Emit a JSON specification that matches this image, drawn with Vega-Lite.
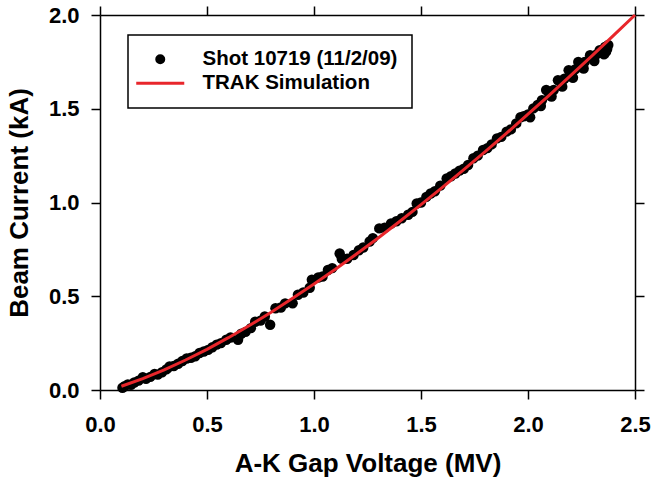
{
  "$schema": "https://vega.github.io/schema/vega-lite/v6.json",
  "width": 535,
  "height": 375,
  "autosize": {"type": "none"},
  "padding": {"left": 100, "top": 15, "right": 17, "bottom": 95},
  "background": "white",
  "config": {
    "view": {"stroke": null},
    "font": "Liberation Sans",
    "axis": {
      "labelFont": "Liberation Sans",
      "labelFontWeight": "bold",
      "labelFontSize": 22,
      "labelColor": "black",
      "labelFlush": false,
      "labelOverlap": false,
      "titleFont": "Liberation Sans",
      "titleFontWeight": "bold",
      "titleFontSize": 26,
      "titleColor": "black",
      "tickSize": 9,
      "tickWidth": 1.5,
      "tickColor": "black",
      "domainColor": "black",
      "domainWidth": 1.5,
      "grid": false
    },
    "legend": {
      "orient": "none",
      "legendX": 28,
      "legendY": 20,
      "strokeColor": "black",
      "strokeWidth": 1.5,
      "fillColor": "white",
      "padding": 14,
      "labelFont": "Liberation Sans",
      "labelFontWeight": "bold",
      "labelFontSize": 20.5,
      "labelColor": "black",
      "labelLimit": 0,
      "symbolSize": 49,
      "symbolStrokeWidth": 3,
      "symbolOffset": 8,
      "labelOffset": 32,
      "rowPadding": 3
    }
  },
  "datasets": {
    "shot": [
      {"v": 0.105, "i": 0.012}, {"v": 0.115, "i": 0.02}, {"v": 0.13, "i": 0.03}, {"v": 0.145, "i": 0.028},
      {"v": 0.16, "i": 0.04}, {"v": 0.18, "i": 0.05}, {"v": 0.2, "i": 0.068}, {"v": 0.215, "i": 0.06},
      {"v": 0.235, "i": 0.07}, {"v": 0.255, "i": 0.085}, {"v": 0.27, "i": 0.082}, {"v": 0.29, "i": 0.095},
      {"v": 0.31, "i": 0.11}, {"v": 0.325, "i": 0.125}, {"v": 0.345, "i": 0.128}, {"v": 0.365, "i": 0.14},
      {"v": 0.385, "i": 0.155}, {"v": 0.405, "i": 0.168}, {"v": 0.425, "i": 0.172}, {"v": 0.445, "i": 0.18},
      {"v": 0.465, "i": 0.197}, {"v": 0.485, "i": 0.205}, {"v": 0.505, "i": 0.214}, {"v": 0.525, "i": 0.228},
      {"v": 0.545, "i": 0.242}, {"v": 0.565, "i": 0.25}, {"v": 0.59, "i": 0.268}, {"v": 0.61, "i": 0.28},
      {"v": 0.645, "i": 0.268}, {"v": 0.66, "i": 0.3}, {"v": 0.68, "i": 0.31}, {"v": 0.705, "i": 0.33},
      {"v": 0.725, "i": 0.364}, {"v": 0.75, "i": 0.37}, {"v": 0.77, "i": 0.392}, {"v": 0.795, "i": 0.348},
      {"v": 0.82, "i": 0.436}, {"v": 0.845, "i": 0.44}, {"v": 0.865, "i": 0.462}, {"v": 0.9, "i": 0.463},
      {"v": 0.925, "i": 0.508}, {"v": 0.95, "i": 0.52}, {"v": 0.98, "i": 0.545}, {"v": 0.99, "i": 0.588},
      {"v": 1.02, "i": 0.6}, {"v": 1.04, "i": 0.605}, {"v": 1.065, "i": 0.64}, {"v": 1.085, "i": 0.65},
      {"v": 1.12, "i": 0.728}, {"v": 1.13, "i": 0.7}, {"v": 1.155, "i": 0.7}, {"v": 1.185, "i": 0.72},
      {"v": 1.21, "i": 0.745}, {"v": 1.23, "i": 0.76}, {"v": 1.26, "i": 0.792}, {"v": 1.275, "i": 0.81},
      {"v": 1.305, "i": 0.862}, {"v": 1.33, "i": 0.865}, {"v": 1.36, "i": 0.888}, {"v": 1.385, "i": 0.9},
      {"v": 1.41, "i": 0.916}, {"v": 1.44, "i": 0.935}, {"v": 1.46, "i": 0.95}, {"v": 1.48, "i": 0.995},
      {"v": 1.5, "i": 1.0}, {"v": 1.525, "i": 1.03}, {"v": 1.545, "i": 1.048}, {"v": 1.565, "i": 1.06},
      {"v": 1.59, "i": 1.09}, {"v": 1.62, "i": 1.128}, {"v": 1.64, "i": 1.14}, {"v": 1.66, "i": 1.155},
      {"v": 1.68, "i": 1.17}, {"v": 1.7, "i": 1.18}, {"v": 1.72, "i": 1.2}, {"v": 1.745, "i": 1.236},
      {"v": 1.765, "i": 1.25}, {"v": 1.79, "i": 1.28}, {"v": 1.81, "i": 1.29}, {"v": 1.83, "i": 1.31},
      {"v": 1.855, "i": 1.342}, {"v": 1.875, "i": 1.35}, {"v": 1.9, "i": 1.378}, {"v": 1.92, "i": 1.39},
      {"v": 1.945, "i": 1.422}, {"v": 1.965, "i": 1.455}, {"v": 1.98, "i": 1.46}, {"v": 2.0, "i": 1.47},
      {"v": 2.025, "i": 1.502}, {"v": 2.045, "i": 1.52}, {"v": 2.065, "i": 1.545}, {"v": 2.085, "i": 1.6},
      {"v": 2.1, "i": 1.575}, {"v": 2.12, "i": 1.6}, {"v": 2.14, "i": 1.652}, {"v": 2.155, "i": 1.64},
      {"v": 2.17, "i": 1.66}, {"v": 2.19, "i": 1.706}, {"v": 2.205, "i": 1.69}, {"v": 2.22, "i": 1.71},
      {"v": 2.235, "i": 1.75}, {"v": 2.25, "i": 1.735}, {"v": 2.265, "i": 1.75}, {"v": 2.29, "i": 1.786},
      {"v": 2.305, "i": 1.77}, {"v": 2.32, "i": 1.79}, {"v": 2.335, "i": 1.812}, {"v": 2.35, "i": 1.81},
      {"v": 2.36, "i": 1.83}, {"v": 2.375, "i": 1.84}, {"v": 2.37, "i": 1.82}, {"v": 2.365, "i": 1.805},
      {"v": 2.11, "i": 1.565}, {"v": 2.16, "i": 1.618}, {"v": 2.21, "i": 1.665}, {"v": 2.26, "i": 1.715},
      {"v": 2.31, "i": 1.755}, {"v": 2.355, "i": 1.79}, {"v": 2.06, "i": 1.515}, {"v": 2.01, "i": 1.455}
    ],
    "trak": [
      {"v": 0.1, "i": 0.02}, {"v": 0.2, "i": 0.061}, {"v": 0.3, "i": 0.107}, {"v": 0.4, "i": 0.16},
      {"v": 0.5, "i": 0.217}, {"v": 0.6, "i": 0.279}, {"v": 0.7, "i": 0.345}, {"v": 0.8, "i": 0.415},
      {"v": 0.9, "i": 0.489}, {"v": 1.0, "i": 0.565}, {"v": 1.1, "i": 0.644}, {"v": 1.2, "i": 0.727},
      {"v": 1.3, "i": 0.811}, {"v": 1.4, "i": 0.899}, {"v": 1.5, "i": 0.989}, {"v": 1.6, "i": 1.081},
      {"v": 1.7, "i": 1.175}, {"v": 1.8, "i": 1.271}, {"v": 1.9, "i": 1.37}, {"v": 2.0, "i": 1.471},
      {"v": 2.1, "i": 1.573}, {"v": 2.2, "i": 1.678}, {"v": 2.3, "i": 1.783}, {"v": 2.4, "i": 1.891},
      {"v": 2.5, "i": 2.0}
    ]
  },
  "layer": [
    {
      "data": {"name": "shot"},
      "transform": [{"calculate": "'Shot 10719 (11/2/09)'", "as": "series"}],
      "mark": {"type": "point", "filled": true, "size": 110, "opacity": 1},
      "encoding": {
        "x": {"field": "v", "type": "quantitative", "scale": {"domain": [0, 2.5], "nice": false},
              "axis": {"title": "A-K Gap Voltage (MV)", "values": [0, 0.5, 1, 1.5, 2, 2.5], "format": ".1f", "labelPadding": 15, "titlePadding": 15}},
        "y": {"field": "i", "type": "quantitative", "scale": {"domain": [0, 2], "nice": false},
              "axis": {"title": "Beam Current (kA)", "values": [0, 0.5, 1, 1.5, 2], "format": ".1f", "labelPadding": 12, "titlePadding": 16}},
        "color": {"field": "series", "type": "nominal",
                  "scale": {"domain": ["Shot 10719 (11/2/09)", "TRAK Simulation"], "range": ["black", "#e8262b"]},
                  "legend": {"title": null,
                             "encode": {"symbols": {"update": {
                               "stroke": {"signal": "datum.value === 'TRAK Simulation' ? '#e8262b' : 'black'"},
                               "opacity": {"value": 1}
                             }}}}},
        "shape": {"field": "series", "type": "nominal",
                  "scale": {"domain": ["Shot 10719 (11/2/09)", "TRAK Simulation"], "range": ["circle", "M-6.86,0L6.86,0"]},
                  "legend": {"title": null}}
      }
    },
    {
      "data": {"name": "trak"},
      "transform": [{"calculate": "'TRAK Simulation'", "as": "series"}],
      "mark": {"type": "line", "strokeWidth": 3},
      "encoding": {
        "x": {"field": "v", "type": "quantitative", "scale": {"domain": [0, 2.5], "nice": false},
              "axis": {"orient": "top", "title": null, "labels": false, "values": [0, 0.5, 1, 1.5, 2, 2.5]}},
        "y": {"field": "i", "type": "quantitative", "scale": {"domain": [0, 2], "nice": false},
              "axis": {"orient": "right", "title": null, "labels": false, "values": [0, 0.5, 1, 1.5, 2]}},
        "color": {"field": "series", "type": "nominal",
                  "scale": {"domain": ["Shot 10719 (11/2/09)", "TRAK Simulation"], "range": ["black", "#e8262b"]}}
      }
    }
  ],
  "resolve": {"axis": {"x": "independent", "y": "independent"}}
}
